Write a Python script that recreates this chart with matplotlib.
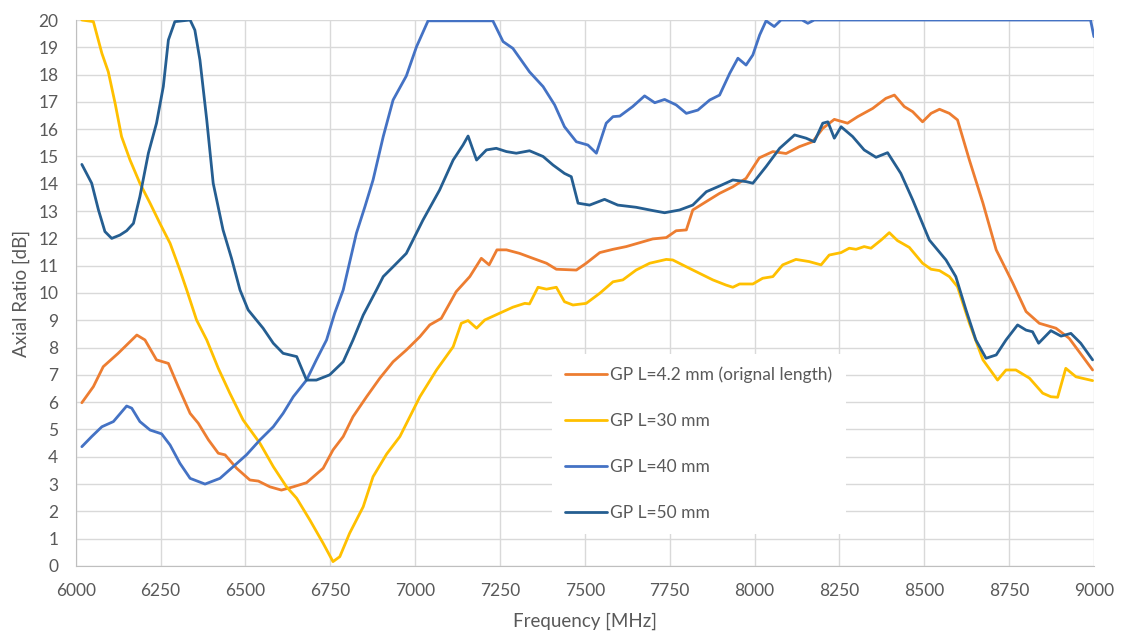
import numpy as np
import matplotlib.pyplot as plt

# values (frequency in MHz, axial ratio in dB)
f_42 = [6018, 6052, 6081, 6125, 6180, 6204, 6238, 6273, 6302, 6337, 6361, 6391, 6420, 6440,
        6474, 6513, 6538, 6572, 6606, 6641, 6680, 6729, 6758, 6788, 6817, 6857, 6896, 6935,
        6974, 7014, 7043, 7077, 7121, 7161, 7195, 7218, 7241, 7269, 7308, 7347, 7387, 7416,
        7475, 7504, 7544, 7583, 7622, 7661, 7700, 7740, 7769, 7799, 7818, 7858, 7897, 7936,
        7975, 8014, 8054, 8093, 8132, 8171, 8201, 8235, 8274, 8304, 8348, 8387, 8412, 8441,
        8466, 8495, 8520, 8545, 8574, 8598, 8633, 8673, 8712, 8761, 8800, 8839, 8888, 8927,
        8967, 8996]
ar_42 = [5.98, 6.57, 7.30, 7.79, 8.46, 8.28, 7.55, 7.42, 6.57, 5.59, 5.23, 4.62, 4.13, 4.07,
         3.58, 3.15, 3.11, 2.90, 2.78, 2.90, 3.05, 3.58, 4.25, 4.74, 5.47, 6.20, 6.88, 7.48,
         7.91, 8.40, 8.83, 9.07, 10.05, 10.60, 11.27, 11.03, 11.58, 11.58, 11.45, 11.27, 11.09, 10.87,
         10.84, 11.09, 11.48, 11.60, 11.70, 11.84, 11.98, 12.03, 12.28, 12.31, 13.04, 13.35, 13.65, 13.89,
         14.20, 14.95, 15.18, 15.11, 15.36, 15.54, 16.03, 16.36, 16.22, 16.46, 16.76, 17.13, 17.25, 16.83,
         16.64, 16.27, 16.58, 16.73, 16.58, 16.34, 14.87, 13.29, 11.58, 10.36, 9.32, 8.89, 8.71, 8.34,
         7.67, 7.18]

f_30 = [6018, 6052, 6077, 6096, 6116, 6135, 6160, 6189, 6219, 6248, 6278, 6307, 6327, 6356,
        6386, 6420, 6454, 6493, 6543, 6582, 6621, 6651, 6690, 6729, 6758, 6778, 6807, 6847,
        6876, 6916, 6955, 7014, 7063, 7112, 7136, 7156, 7181, 7205, 7249, 7288, 7323, 7337,
        7362, 7387, 7416, 7440, 7465, 7504, 7544, 7583, 7612, 7651, 7691, 7740, 7759, 7799,
        7838, 7877, 7916, 7936, 7956, 7995, 8024, 8054, 8083, 8122, 8161, 8196, 8220, 8255,
        8279, 8299, 8323, 8343, 8373, 8397, 8421, 8456, 8495, 8520, 8545, 8574, 8598, 8633,
        8673, 8716, 8741, 8770, 8810, 8849, 8873, 8893, 8917, 8947, 8996]
ar_30 = [20.0, 19.94, 18.78, 18.10, 16.95, 15.73, 14.87, 14.02, 13.29, 12.55, 11.82, 10.84, 10.11, 9.01,
         8.28, 7.24, 6.33, 5.35, 4.49, 3.64, 2.90, 2.48, 1.68, 0.83, 0.16, 0.34, 1.20, 2.17,
         3.27, 4.10, 4.74, 6.20, 7.18, 8.03, 8.89, 8.99, 8.71, 9.01, 9.26, 9.48, 9.62, 9.60,
         10.21, 10.14, 10.21, 9.68, 9.56, 9.62, 9.99, 10.41, 10.48, 10.84, 11.09, 11.23, 11.21, 10.96,
         10.72, 10.48, 10.29, 10.21, 10.33, 10.33, 10.54, 10.60, 11.03, 11.23, 11.15, 11.03, 11.39, 11.48,
         11.64, 11.60, 11.70, 11.64, 11.94, 12.21, 11.92, 11.67, 11.09, 10.87, 10.82, 10.60, 10.23, 8.89,
         7.55, 6.81, 7.18, 7.18, 6.88, 6.33, 6.20, 6.18, 7.24, 6.93, 6.79]

f_40 = [6018, 6047, 6077, 6111, 6150, 6165, 6189, 6219, 6253, 6278, 6307, 6337, 6381, 6425,
        6464, 6503, 6543, 6582, 6611, 6641, 6680, 6709, 6739, 6763, 6788, 6827, 6852, 6876,
        6906, 6935, 6974, 7004, 7038, 7229, 7259, 7288, 7337, 7377, 7411, 7440, 7475, 7509,
        7534, 7563, 7583, 7603, 7641, 7676, 7706, 7735, 7769, 7799, 7833, 7868, 7897, 7927,
        7951, 7975, 7995, 8015, 8034, 8058, 8078, 8140, 8157, 8176, 8990, 9000]
ar_40 = [4.37, 4.74, 5.10, 5.29, 5.86, 5.78, 5.29, 4.98, 4.84, 4.43, 3.76, 3.21, 3.00, 3.21,
         3.64, 4.07, 4.62, 5.10, 5.59, 6.20, 6.81, 7.55, 8.28, 9.26, 10.11, 12.19, 13.16, 14.14,
         15.73, 17.07, 17.95, 19.02, 19.97, 19.97, 19.21, 18.96, 18.10, 17.56, 16.89, 16.09, 15.54, 15.42,
         15.12, 16.22, 16.46, 16.48, 16.83, 17.22, 16.97, 17.09, 16.89, 16.58, 16.70, 17.07, 17.25, 18.05,
         18.60, 18.35, 18.72, 19.45, 19.97, 19.76, 20.0, 20.0, 19.88, 20.0, 20.0, 19.39]

f_50 = [6018, 6047, 6067, 6086, 6106, 6130, 6150, 6170, 6189, 6214, 6238, 6258, 6273, 6292,
        6337, 6351, 6366, 6386, 6405, 6434, 6459, 6484, 6508, 6552, 6582, 6611, 6651, 6680,
        6709, 6748, 6788, 6817, 6847, 6886, 6906, 6935, 6974, 7023, 7072, 7112, 7141, 7156,
        7181, 7210, 7239, 7269, 7298, 7337, 7377, 7406, 7440, 7460, 7480, 7514, 7558, 7597,
        7651, 7700, 7735, 7779, 7818, 7858, 7897, 7936, 7975, 7995, 8034, 8074, 8118, 8152,
        8176, 8201, 8216, 8235, 8255, 8289, 8323, 8358, 8392, 8431, 8466, 8515, 8564, 8593,
        8623, 8652, 8682, 8712, 8741, 8775, 8800, 8819, 8837, 8873, 8903, 8932, 8961, 8996]
ar_50 = [14.71, 14.02, 13.04, 12.25, 12.00, 12.12, 12.28, 12.55, 13.53, 15.12, 16.22, 17.56, 19.27, 19.94,
         20.0, 19.63, 18.53, 16.34, 14.02, 12.31, 11.27, 10.11, 9.38, 8.71, 8.16, 7.79, 7.67, 6.81,
         6.81, 7.00, 7.48, 8.28, 9.19, 10.11, 10.60, 10.96, 11.45, 12.67, 13.77, 14.87, 15.42, 15.75,
         14.87, 15.24, 15.30, 15.18, 15.12, 15.21, 15.00, 14.69, 14.38, 14.26, 13.29, 13.22, 13.43, 13.22,
         13.14, 13.02, 12.94, 13.04, 13.22, 13.71, 13.92, 14.14, 14.08, 14.02, 14.63, 15.30, 15.79, 15.67,
         15.54, 16.22, 16.27, 15.67, 16.09, 15.73, 15.24, 14.97, 15.14, 14.38, 13.41, 11.94, 11.21, 10.60,
         9.38, 8.28, 7.61, 7.73, 8.28, 8.83, 8.64, 8.58, 8.16, 8.62, 8.42, 8.52, 8.16, 7.55]

labels = ['GP L=4.2 mm (orignal length)', 'GP L=30 mm', 'GP L=40 mm', 'GP L=50 mm']
colors = ['#ED7D31', '#FFC000', '#4472C4', '#255E91']

xticks = np.arange(6000, 9001, 250)
yticks = np.arange(0, 21, 1)

plt.rcParams['font.family'] = ['Lato', 'DejaVu Sans']
txt = '#595959'

fig = plt.figure(figsize=(11.22, 6.37), dpi=100)
ax = fig.add_axes([0.0675, 0.1115, 0.9075, 0.8571])

for fx, ar, lab, c in zip([f_42, f_30, f_40, f_50], [ar_42, ar_30, ar_40, ar_50], labels, colors):
    ax.plot(fx, ar, color=c, lw=2.0, label=lab, solid_joinstyle='round', solid_capstyle='round')

ax.set_xlim(6000, 9000)
ax.set_ylim(0, 20)
ax.set_xticks(xticks)
ax.set_yticks(yticks)
ax.grid(color='#D9D9D9', linewidth=1)
ax.set_axisbelow(True)
ax.tick_params(length=0, labelsize=12.5, labelcolor=txt, pad=12.5)
for s in ['top', 'right']:
    ax.spines[s].set_visible(False)
for s in ['left', 'bottom']:
    ax.spines[s].set_color('#BFBFBF')

ax.set_xlabel('Frequency [MHz]', fontsize=13.5, color=txt, va='center')
ax.set_ylabel('Axial Ratio [dB]', fontsize=13.5, color=txt, va='center')
ax.xaxis.set_label_coords(0.5, -0.102)
ax.yaxis.set_label_coords(-0.0537, 0.5)

leg = ax.legend(loc='upper left', bbox_to_anchor=(0.492, 0.4445), bbox_transform=fig.transFigure,
                fontsize=12.5, labelspacing=1.72, handlelength=2.44, handletextpad=0.17,
                borderpad=0.75, borderaxespad=0, frameon=True, fancybox=False)
leg.get_frame().set_facecolor('white')
leg.get_frame().set_edgecolor('none')
leg.get_frame().set_alpha(1)
for t in leg.get_texts():
    t.set_color(txt)

plt.savefig('out.png', dpi=100)
